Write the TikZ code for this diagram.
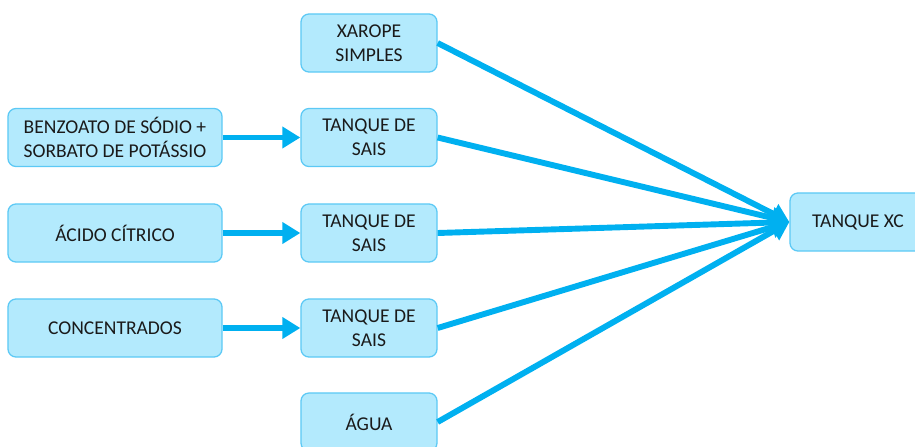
\documentclass[tikz,border=0pt]{standalone}
\usepackage{fontspec}
\setmainfont{Carlito}
\usetikzlibrary{arrows.meta}
\definecolor{boxfill}{HTML}{B3EAFD}
\definecolor{boxline}{HTML}{5CC9F5}
\definecolor{flow}{HTML}{00B0F0}
\definecolor{texto}{HTML}{1A1A1A}
\tikzset{
  etapa/.style={draw=boxline, line width=0.9pt, fill=boxfill, rounded corners=0.2cm,
    minimum width=3.4cm, minimum height=1.45cm, align=center, text=texto,
    font=\fontsize{13.9}{17}\selectfont},
  entrada/.style={etapa, minimum width=5.35cm},
  fluxo/.style={draw=flow, line width=4.2pt, -{Triangle[length=0.45cm, width=0.52cm]}}
}
\begin{document}
\begin{tikzpicture}[x=0.025cm, y=-0.025cm]
\useasboundingbox (0, 0) rectangle (915, 447);
% entradas
\node[entrada] (benz) at (115, 137.5) {BENZOATO DE SÓDIO +\\SORBATO DE POTÁSSIO};
\node[entrada] (acido) at (115, 233) {ÁCIDO CÍTRICO};
\node[entrada] (conc) at (115, 328) {CONCENTRADOS};
% tanques
\node[etapa] (xarope) at (369, 43) {XAROPE\\SIMPLES};
\node[etapa] (sais1) at (369, 137.5) {TANQUE DE\\SAIS};
\node[etapa] (sais2) at (369, 233) {TANQUE DE\\SAIS};
\node[etapa] (sais3) at (369, 328) {TANQUE DE\\SAIS};
\node[etapa] (agua) at (369, 422) {ÁGUA};
\node[etapa] (xc) at (858, 222) {TANQUE XC};
% setas
\draw[fluxo] (benz) -- (sais1);
\draw[fluxo] (acido) -- (sais2);
\draw[fluxo] (conc) -- (sais3);
\foreach \t in {xarope, sais1, sais2, sais3, agua}
  \draw[fluxo] (\t.east) -- (xc.west);
\end{tikzpicture}
\end{document}
